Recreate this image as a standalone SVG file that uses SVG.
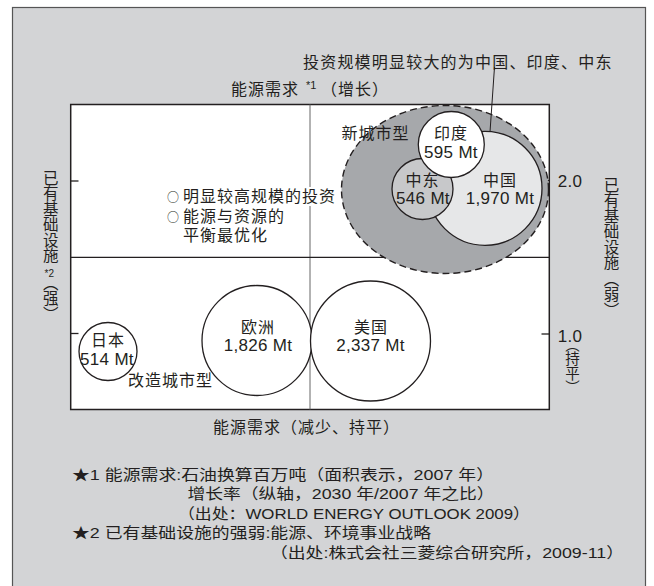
<svg xmlns="http://www.w3.org/2000/svg" width="654" height="586" viewBox="0 0 654 586">
<style>
.t{font-family:"Liberation Sans","Noto Sans CJK SC",sans-serif;fill:#231f20}
.c{font-size:16px;letter-spacing:1px}
.n{font-size:17px;letter-spacing:0.3px}
.f{font-size:15px}
.v{font-size:15.5px;writing-mode:vertical-rl}
.p{font-feature-settings:"vhal" 1}
.m{text-anchor:middle}
.ln{stroke:#231f20;fill:none}
.bub{stroke:#231f20;stroke-width:1.3}
</style>
<rect x="0" y="0" width="654" height="586" fill="#ffffff"/>
<rect id="panel" x="12.5" y="7.5" width="633" height="600" fill="#d3d4d6" stroke="#555" stroke-width="1.2"/>

<g id="plot">
<rect x="70.7" y="104.5" width="478.6" height="305" fill="#ffffff" stroke="#231f20" stroke-width="1.5"/>
<line x1="310" y1="104.5" x2="310" y2="409.5" stroke="#666" stroke-width="1"/>
<line x1="70.7" y1="257.3" x2="549.3" y2="257.3" stroke="#231f20" stroke-width="1.2"/>
<line x1="70.7" y1="181" x2="78.5" y2="181" class="ln" stroke-width="1.3"/>
<line x1="70.7" y1="333.5" x2="78.5" y2="333.5" class="ln" stroke-width="1.3"/>
<line x1="541.5" y1="180.5" x2="549.3" y2="180.5" class="ln" stroke-width="1.3"/>
<line x1="541.5" y1="334" x2="549.3" y2="334" class="ln" stroke-width="1.3"/>
</g>

<g id="new-city">
<ellipse cx="445" cy="189.5" rx="103.5" ry="84" fill="#a6a8ab" stroke="#231f20" stroke-width="1.4" stroke-dasharray="7 4"/>
<text class="t c" x="341.5" y="139.3">新城市型</text>
</g>
<g id="china">
<circle cx="485" cy="188.3" r="57" fill="#e6e7e8" class="bub"/>
<text class="t c m" x="500" y="186">中国</text>
<text class="t n m" x="500" y="204.4">1,970 Mt</text>
</g>
<g id="middle-east">
<circle cx="422.5" cy="189" r="30.5" fill="#c7c8ca" class="bub"/>
<text class="t c m" x="422.5" y="186">中东</text>
<text class="t n m" x="423" y="204.4">546 Mt</text>
</g>
<g id="india">
<circle cx="451.3" cy="144.5" r="33" fill="#ffffff" class="bub"/>
<text class="t c m" x="451" y="139.3">印度</text>
<text class="t n m" x="451" y="157.5">595 Mt</text>
</g>

<g id="japan">
<circle cx="108" cy="351.5" r="29" fill="#ffffff" class="bub"/>
<text class="t c m" x="108" y="346">日本</text>
<text class="t n m" x="107" y="365.4">514 Mt</text>
</g>
<g id="europe">
<circle cx="257" cy="340.5" r="55" fill="#ffffff" class="bub"/>
<text class="t c m" x="258" y="332.7">欧洲</text>
<text class="t n m" x="258" y="351">1,826 Mt</text>
</g>
<g id="usa">
<circle cx="370.5" cy="341" r="60" fill="#ffffff" class="bub"/>
<text class="t c m" x="371" y="332.7">美国</text>
<text class="t n m" x="370.5" y="351">2,337 Mt</text>
</g>
<g id="renovate">
<text class="t c" x="128" y="386">改造城市型</text>
</g>

<g id="bullets">
<rect x="303" y="187" width="18" height="19" fill="#ffffff"/>
<text class="t c" x="167" y="202"><tspan font-size="12" font-family="Noto Sans CJK SC">○</tspan><tspan x="183">明显较高规模的投资</tspan></text>
<text class="t c" x="167" y="221.5"><tspan font-size="12" font-family="Noto Sans CJK SC">○</tspan><tspan x="183">能源与资源的</tspan></text>
<text class="t c" x="183" y="240.5">平衡最优化</text>
</g>

<g id="connectors">
<line x1="494.5" y1="67" x2="490" y2="132" class="ln" stroke-width="1"/>
</g>

<g id="labels">
<text class="t c" x="303" y="68" style="letter-spacing:1.2px">投资规模明显较大的为中国、印度、中东</text>
<text class="t c" x="231" y="94.5">能源需求<tspan x="306" y="89" font-size="11" letter-spacing="0">*1</tspan><tspan x="321" y="94.5">（增长）</tspan></text>
<text class="t c" x="213" y="432.7">能源需求（减少、持平）</text>
<text class="t n m" x="570" y="186.7">2.0</text>
<text class="t n m" x="570" y="341.5">1.0</text>
<text class="t v" x="49.3" y="170">已有基础设施</text>
<text class="t m" x="49.3" y="277" font-size="10">*2</text>
<text class="t v p" x="49.3" y="283">（强）</text>
<text class="t v" x="610" y="177">已有基础设施</text>
<text class="t v p" x="610" y="279">（弱）</text>
<text class="t v p" x="571" y="344" style="font-size:14.5px">（持平）</text>
</g>

<g id="notes">
<text class="t f" x="72" y="479.5" textLength="422" lengthAdjust="spacingAndGlyphs">★1 能源需求:石油换算百万吨（面积表示，2007 年）</text>
<text class="t f" x="187.5" y="499" textLength="307" lengthAdjust="spacingAndGlyphs">增长率（纵轴，2030 年/2007 年之比）</text>
<text class="t f" x="178" y="518.5" textLength="352" lengthAdjust="spacingAndGlyphs">（出处：WORLD ENERGY OUTLOOK 2009）</text>
<text class="t f" x="72" y="538" textLength="359" lengthAdjust="spacingAndGlyphs">★2 已有基础设施的强弱:能源、环境事业战略</text>
<text class="t f" x="270" y="557.5" textLength="354" lengthAdjust="spacingAndGlyphs">（出处:株式会社三菱综合研究所，2009-11）</text>
</g>
</svg>
